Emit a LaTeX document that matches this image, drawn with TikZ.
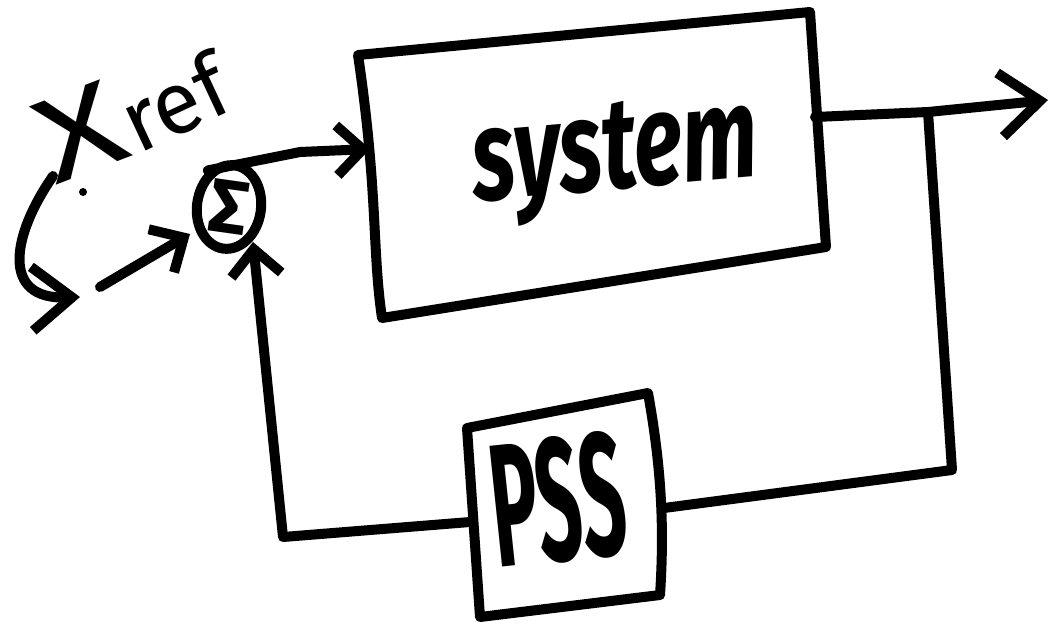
\documentclass[tikz,border=0pt]{standalone}
\usepackage{fontspec}
\setmainfont{Fira Sans}
\usetikzlibrary{arrows.meta,shapes.geometric}
\begin{document}
\begin{tikzpicture}[x=1pt,y=-1pt,
  ink/.style={line width=10pt,line cap=round,line join=round},
  wire/.style={ink},
  barb/.style={-{Straight Barb[length=26pt,width=50pt,line width=10pt]}},
  bigbarb/.style={-{Straight Barb[length=40pt,width=64pt,line width=10pt]}},
  label/.style={inner sep=0pt}]
\useasboundingbox (0,0) rectangle (1055,627);

% summing junction
\node[ellipse,draw,ink,minimum width=64pt,minimum height=84pt,inner sep=0pt,
      font=\bfseries\fontsize{76}{76}\selectfont,rotate=-8] (sum) at (229,207) {Σ};

% system block
\coordinate (s1) at (358,55);
\coordinate (s2) at (810,12);
\coordinate (s3) at (826,247);
\coordinate (s4) at (382,318);
\draw[ink] (s1) -- (s2) -- (s3) -- (s4) .. controls (372,250) and (378,190) .. cycle;
\node[label,rotate=5] (system) at (616,160)
  {\scalebox{0.7}[1]{\bfseries\itshape\fontsize{130}{130}\selectfont system}};

% PSS block
\coordinate (p1) at (467,428);
\coordinate (p2) at (648,393);
\coordinate (p3) at (660,595);
\coordinate (p4) at (480,617);
\draw[ink] (p1) -- (p2) .. controls (660,460) and (665,520) .. (p3) -- (p4) -- cycle;
\node[label,rotate=6] (pss) at (558,500)
  {\scalebox{0.45}[1]{\bfseries\fontsize{175}{175}\selectfont PSS}};

% reference input label
\node[label,rotate=21] (X) at (80,132)
  {\scalebox{1.3}[1]{\fontsize{120}{120}\selectfont X}};
\node[label,font=\fontsize{88}{88}\selectfont,rotate=25] (ref) at (174,102) {ref};
\fill (83,192) circle (4pt);

% connection points
\coordinate (xfoot) at (53,176);
\coordinate (inA) at (100,287);
\coordinate (inB) at (190,234);
\coordinate (sysin) at (370,149);
\coordinate (sysout) at (815,117);
\coordinate (branch) at (928,112);
\coordinate (outend) at (1048,100);
\coordinate (loopR) at (952,470);
\coordinate (pssout) at (664,508);
\coordinate (pssin) at (470,522);
\coordinate (loopL) at (283,537);
\coordinate (fbtip) at (253,242);

% pointer from the label to the input
\draw[wire,bigbarb] (xfoot) .. controls (12,235) and (0,300) .. (80,297);

% signal flow
\draw[wire,barb] (inA) -- (inB);
\draw[wire,barb] (sum.north west) -- (300,152) -- (sysin);
\draw[wire,bigbarb] (sysout) -- (branch) -- (outend);
\draw[wire] (branch) -- (loopR) -- (pssout);
\draw[wire,barb] (pssin) -- (loopL) -- (fbtip);
\end{tikzpicture}
\end{document}
